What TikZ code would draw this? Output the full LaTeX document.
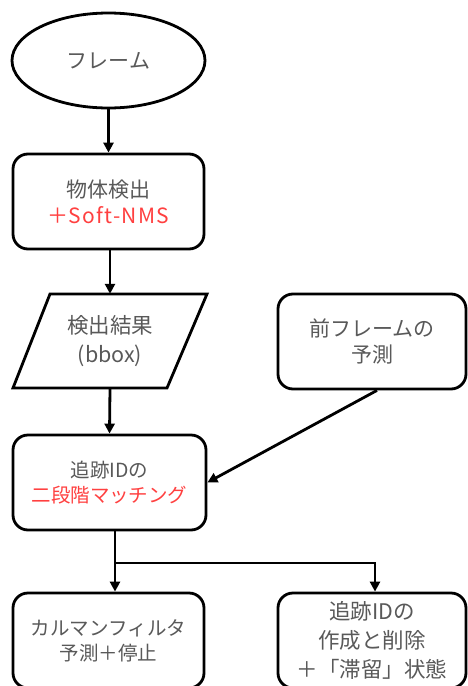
\documentclass[tikz,border=0pt]{standalone}
\usepackage{fontspec}
\setmainfont{Noto Sans CJK JP}
\usetikzlibrary{arrows.meta,shapes.geometric}
\definecolor{txt}{HTML}{595959}
\definecolor{hl}{HTML}{FF4040}
\begin{document}
\begin{tikzpicture}[x=1pt,y=-1pt,
  base/.style={draw=black,line width=2.8pt,text=txt,align=center,inner sep=0pt},
  roundbox/.style={base,rounded corners=15pt,minimum width=191pt,minimum height=95pt},
  arr/.style={line width=2.8pt,-{Triangle[length=10pt,width=10pt]}},
  conn/.style={line width=2.8pt},
  fA/.style={font=\fontsize{21}{26}\selectfont},
  fB/.style={font=\fontsize{19.5}{25}\selectfont},
  fC/.style={font=\fontsize{21.5}{29}\selectfont}]
\useasboundingbox (0,0) rectangle (467,686);
\fill[white] (0,0) rectangle (467,686);

\node[base,ellipse,minimum width=193pt,minimum height=95pt,fA] (fr) at (108.5,60.5) {フレーム};
\node[roundbox,fA] (det) at (108.5,201.5) {物体検出\\\textcolor{hl}{＋{\addfontfeature{LetterSpace=6}Soft-NMS}}};
\node[text=txt,align=center,inner sep=0pt,minimum width=120pt,minimum height=94pt,fC] (res) at (110,341) {検出結果\\(bbox)};
\draw[line width=2.8pt,line join=miter] (50,294) -- (207,294) -- (167,388) -- (13,388) -- cycle;
\node[roundbox,minimum width=188pt,fA] (prev) at (372,341.5) {前フレームの\\予測};
\node[roundbox,minimum width=193pt,fB] (match) at (109.5,482.5) {追跡IDの\\\textcolor{hl}{二段階マッチング}};
\node[roundbox,fB] (kal) at (108.5,640.5) {カルマンフィルタ\\予測＋停止};
\node[roundbox,minimum width=188pt,fC] (cre) at (372,640.5) {追跡IDの\\作成と削除\\＋「滞留」状態};

\draw[arr] (fr.south) -- (det.north);
\draw[arr] ([xshift=1.5pt]det.south) -- (res.north);
\draw[arr] (res.south) -- (match.north);
\draw[arr] ([xshift=5pt]prev.south) -- (match.east);
\coordinate (br) at (115,563);
\draw[conn] ([xshift=5.5pt]match.south) -- (br);
\draw[arr] (br) -- (kal.north -| br);
\draw[arr] (br) -| ([xshift=3pt]cre.north);
\end{tikzpicture}
\end{document}
